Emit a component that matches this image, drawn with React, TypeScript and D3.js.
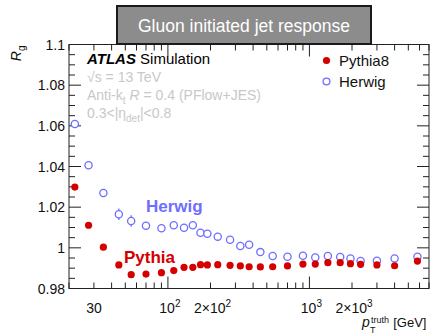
import React from "react";
import * as d3 from "d3";

const ptBins = [22, 27.5, 35, 45, 55, 70, 90, 110, 130, 150, 170, 190, 225, 275, 325, 375, 450, 550, 700, 900, 1100, 1350, 1650, 1950, 2300, 3000, 4000, 5800];
const pythia = [1.0299, 1.0111, 1.0003, 0.9916, 0.9868, 0.9871, 0.9878, 0.9888, 0.9904, 0.9904, 0.9917, 0.9916, 0.9917, 0.9914, 0.9911, 0.9907, 0.9906, 0.9907, 0.9911, 0.992, 0.992, 0.9927, 0.9927, 0.9922, 0.9919, 0.9916, 0.9912, 0.9935];
const herwig = [1.0609, 1.0406, 1.027, 1.0165, 1.0132, 1.0109, 1.0096, 1.0111, 1.0099, 1.0111, 1.0074, 1.0069, 1.0055, 1.004, 1.0009, 1.0015, 0.9979, 0.996, 0.9956, 0.9961, 0.9953, 0.996, 0.9955, 0.9948, 0.9935, 0.9937, 0.9948, 0.9956];
const herwigErr = [0.0005, 0.0005, 0.0008, 0.0028, 0.0028, 0.0005, 0.0005, 0.0005, 0.0005, 0.0005, 0.0005, 0.0005, 0.0005, 0.0005, 0.0005, 0.0005, 0.0005, 0.0005, 0.0005, 0.0005, 0.0005, 0.0005, 0.0005, 0.0005, 0.0005, 0.0005, 0.0005, 0.0005];

const yMajor = [0.98, 1, 1.02, 1.04, 1.06, 1.08, 1.1];
const yMajorLabels = ["0.98", "1", "1.02", "1.04", "1.06", "1.08", "1.1"];
const xLabelVals = [30, 100, 200, 1000, 2000];
const xLabelMant = ["30", "10", "2\u00d710", "10", "2\u00d710"];
const xLabelExp = ["", "2", "2", "3", "3"];

const FONT = "'Liberation Sans', Arial, Helvetica, sans-serif";
const RED = "#d40000";
const BLUE = "#6e6eff";

export default function App() {
  const L = 69, R = 429, T = 44.5, B = 288.5;
  const x = d3.scaleLog().domain([20, 7000]).range([L, R]);
  const y = d3.scaleLinear().domain([0.98, 1.1]).range([B, T]);

  const yMinor = d3.range(0, 25).map((i) => 0.98 + i * 0.005).filter((v) => v <= 1.1001);
  const xMinor: number[] = [];
  [10, 100, 1000].forEach((dec) => {
    for (let m = 1; m <= 9; m++) {
      const v = dec * m;
      if (v >= 20 && v <= 7000) xMinor.push(v);
    }
  });
  const xMajor = [100, 1000];

  const tickColor = "#222";
  const axisStyle = { stroke: tickColor, strokeWidth: 1 } as const;

  return (
    <svg width={433} height={334} style={{ display: "block", position: "absolute", left: 0, top: 0, background: "#fff" }} fontFamily={FONT}>
      {/* frame */}
      <rect x={L} y={T} width={R - L} height={B - T} fill="none" {...axisStyle} />
      {/* y ticks */}
      {yMinor.map((v, i) => {
        const isMajor = yMajor.some((m) => Math.abs(m - v) < 1e-6);
        const len = isMajor ? 12 : 6;
        return (
          <g key={"yt" + i}>
            <line x1={L} x2={L + len} y1={y(v)} y2={y(v)} {...axisStyle} />
            <line x1={R} x2={R - len} y1={y(v)} y2={y(v)} {...axisStyle} />
          </g>
        );
      })}
      {/* x ticks */}
      {xMinor.map((v, i) => {
        const isMajor = xMajor.includes(v);
        const len = isMajor ? 12 : 6;
        return (
          <g key={"xt" + i}>
            <line x1={x(v)} x2={x(v)} y1={B} y2={B - len} {...axisStyle} />
            <line x1={x(v)} x2={x(v)} y1={T} y2={T + len} {...axisStyle} />
          </g>
        );
      })}
      {/* y labels */}
      {yMajor.map((v, i) => (
        <text key={"yl" + i} x={L - 4} y={y(v) + 5} textAnchor="end" fontSize={14} fill="#111">
          {yMajorLabels[i]}
        </text>
      ))}
      {/* x labels */}
      {xLabelVals.map((v, i) => (
        <text key={"xl" + i} x={x(v) + (xLabelExp[i] ? 2 : 0)} y={313} textAnchor="middle" fontSize={14} fill="#111">
          {xLabelMant[i]}
          {xLabelExp[i] && (
            <tspan dy={-6} fontSize={10}>
              {xLabelExp[i]}
            </tspan>
          )}
        </text>
      ))}
      {/* x axis title */}
      <text x={362} y={327} fontSize={14} fontStyle="italic" fill="#111">p</text>
      <text x={371} y={322.5} fontSize={9} fill="#111">truth</text>
      <text x={370} y={333} fontSize={9} fill="#111">T</text>
      <text x={426.5} y={327} textAnchor="end" fontSize={13} fill="#111">[GeV]</text>
      {/* y axis title */}
      <text transform={`translate(21,${T + 1}) rotate(-90)`} textAnchor="end" fontSize={14} fill="#111">
        <tspan fontStyle="italic">R</tspan>
        <tspan dy={4} fontSize={10}>g</tspan>
      </text>

      {/* Herwig error bars */}
      {ptBins.map((p, i) => (
        <line key={"he" + i} x1={x(p)} x2={x(p)} y1={y(herwig[i] - herwigErr[i])} y2={y(herwig[i] + herwigErr[i])} stroke={BLUE} strokeWidth={1.3} />
      ))}
      {/* Herwig points */}
      {ptBins.map((p, i) => (
        <circle key={"hp" + i} cx={x(p)} cy={y(herwig[i])} r={3.6} fill="#fff" stroke={BLUE} strokeWidth={1.3} />
      ))}
      {/* Pythia points */}
      {ptBins.map((p, i) => (
        <circle key={"pp" + i} cx={x(p)} cy={y(pythia[i])} r={3.6} fill={RED} />
      ))}

      {/* annotations */}
      <text x={87} y={64} fontSize={15} fill="#000">
        <tspan fontWeight="bold" fontStyle="italic">ATLAS</tspan>
        <tspan> Simulation</tspan>
      </text>
      <text x={87} y={82} fontSize={14} fill="#c8c8c8">√s = 13 TeV</text>
      <text x={87} y={100} fontSize={14} fill="#c8c8c8">
        Anti-k<tspan dy={4} fontSize={10}>t</tspan>
        <tspan dy={-4}> </tspan>
        <tspan fontStyle="italic">R</tspan>
        <tspan> = 0.4 (PFlow+JES)</tspan>
      </text>
      <text x={87} y={118} fontSize={14} fill="#c8c8c8">
        0.3&lt;|η<tspan dy={4} fontSize={10}>det</tspan>
        <tspan dy={-4}>|&lt;0.8</tspan>
      </text>

      {/* legend */}
      <circle cx={326.5} cy={60.5} r={3.6} fill={RED} />
      <text x={339} y={65.5} fontSize={15} fill="#111">Pythia8</text>
      <circle cx={326.5} cy={81.5} r={3.4} fill="#fff" stroke={BLUE} strokeWidth={1.3} />
      <text x={339} y={86.5} fontSize={15} fill="#111">Herwig</text>

      {/* series labels */}
      <text x={146} y={212} fontSize={17} fontWeight="bold" fill={BLUE}>Herwig</text>
      <text x={124} y={263} fontSize={17} fontWeight="bold" fill={RED}>Pythia</text>

      {/* title box */}
      <rect x={117} y={6} width={254} height={38} fill="#8c8c8c" stroke="#1a1a1a" strokeWidth={2} />
      <text x={244} y={32} textAnchor="middle" fontSize={17.5} fill="#fff">Gluon initiated jet response</text>
    </svg>
  );
}
